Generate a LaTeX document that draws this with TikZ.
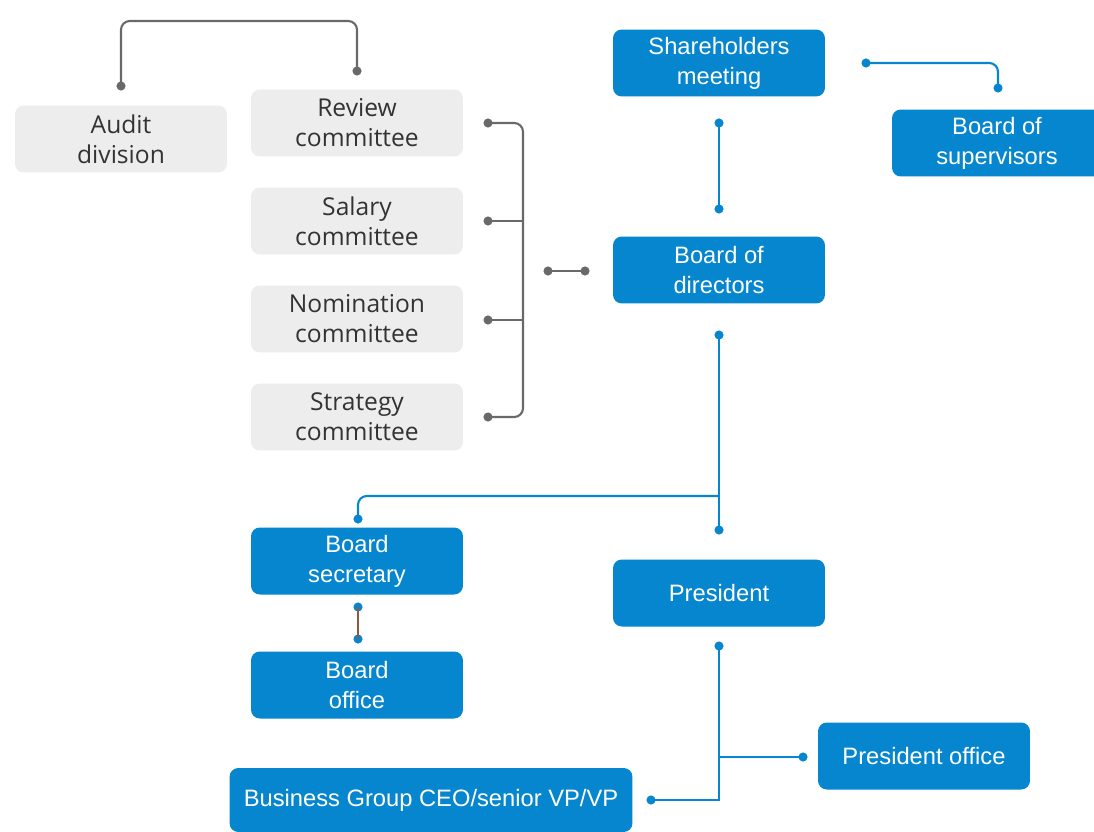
\documentclass[tikz,border=0pt]{standalone}
\usepackage{fontspec}
\setmainfont{Liberation Sans}
\newfontfamily\grisfont{Open Sans}
\usepackage{tikz}
\definecolor{azul}{RGB}{6,134,206}
\definecolor{nube}{RGB}{237,237,237}
\definecolor{grafito}{RGB}{105,105,105}
\definecolor{tinta}{RGB}{51,51,51}
\definecolor{cafe}{RGB}{150,85,60}

\begin{document}
\begin{tikzpicture}[x=0.02cm, y=-0.02cm,
  azulbox/.style={rectangle, rounded corners=5pt, fill=azul, text=white, align=center,
    minimum width=4.24cm, minimum height=1.34cm, inner sep=0pt,
    font=\fontsize{13.5}{17}\selectfont},
  grisbox/.style={rectangle, rounded corners=5pt, fill=nube, text=tinta, align=center,
    minimum width=4.24cm, minimum height=1.34cm, inner sep=0pt,
    font=\grisfont\fontsize{14}{17}\selectfont},
  bolita/.style={circle, fill, inner sep=0pt, minimum size=5.2pt},
  glinea/.style={grafito, line width=1.2pt, rounded corners=5pt},
  alinea/.style={azul, line width=1.2pt, rounded corners=5pt}]
  \useasboundingbox[fill=white] (0,0) rectangle (1094,831);
  % gray committees
  \node[grisbox] (audit) at (121,139) {Audit\\division};
  \node[grisbox] (review) at (357,123) {Review\\committee};
  \node[grisbox] (salary) at (357,221) {Salary\\committee};
  \node[grisbox] (nomin) at (357,319) {Nomination\\committee};
  \node[grisbox] (strat) at (357,417) {Strategy\\committee};
  % blue boxes
  \node[azulbox] (share) at (719,63) {Shareholders\\meeting};
  \node[azulbox, minimum width=4.2cm] (superv) at (997,143) {Board of\\supervisors};
  \node[azulbox] (direct) at (719,270) {Board of\\directors};
  \node[azulbox] (secret) at (357,561) {Board\\secretary};
  \node[azulbox] (office) at (357,685) {Board\\office};
  \node[azulbox] (pres) at (719,593) {President};
  \node[azulbox] (presoff) at (924,756) {President office};
  \node[azulbox, minimum width=8.06cm, minimum height=1.28cm] (bgceo) at (431,800) {Business Group CEO/senior VP/VP};
  % dots
  \node[bolita, grafito] (da) at (121,86) {};
  \node[bolita, grafito] (dr) at (357,71) {};
  \node[bolita, grafito] (c1) at (488,123) {};
  \node[bolita, grafito] (c2) at (488,221) {};
  \node[bolita, grafito] (c3) at (488,320) {};
  \node[bolita, grafito] (c4) at (488,417) {};
  \node[bolita, grafito] (k1) at (548,271) {};
  \node[bolita, grafito] (k2) at (585,271) {};
  \node[bolita, azul] (s1) at (719,123) {};
  \node[bolita, azul] (s2) at (719,209) {};
  \node[bolita, azul] (v1) at (866,63) {};
  \node[bolita, azul] (v2) at (998,88) {};
  \node[bolita, azul] (d1) at (719,335) {};
  \node[bolita, azul] (d2) at (719,530) {};
  \node[bolita, azul] (b1) at (358,519) {};
  \node[bolita, azul] (b2) at (358,607) {};
  \node[bolita, azul] (b3) at (358,639) {};
  \node[bolita, azul] (p1) at (719,646) {};
  \node[bolita, azul] (p2) at (803,757) {};
  \node[bolita, azul] (p3) at (651,800) {};
  \coordinate (tope) at (239,21);
  \coordinate (llave) at (523,270);
  \coordinate (cruce) at (719,496);
  \coordinate (rama) at (719,757);
  % connectors
  \draw[glinea] (da.center) |- (tope) -| (dr.center);
  \draw[glinea] (c1.center) -| (llave) |- (c4.center);
  \draw[glinea] (c2.center) -- (c2.center -| llave);
  \draw[glinea] (c3.center) -- (c3.center -| llave);
  \draw[glinea] (k1.center) -- (k2.center);
  \draw[alinea] (s1.center) -- (s2.center);
  \draw[alinea] (v1.center) -| (v2.center);
  \draw[alinea] (d1.center) -- (d2.center);
  \draw[alinea] (cruce) -| (b1.center);
  \draw[cafe, line width=1pt] (b2.center) -- (b3.center);
  \draw[alinea, sharp corners] (p1.center) |- (p3.center);
  \draw[alinea] (rama) -- (p2.center);
\end{tikzpicture}
\end{document}
